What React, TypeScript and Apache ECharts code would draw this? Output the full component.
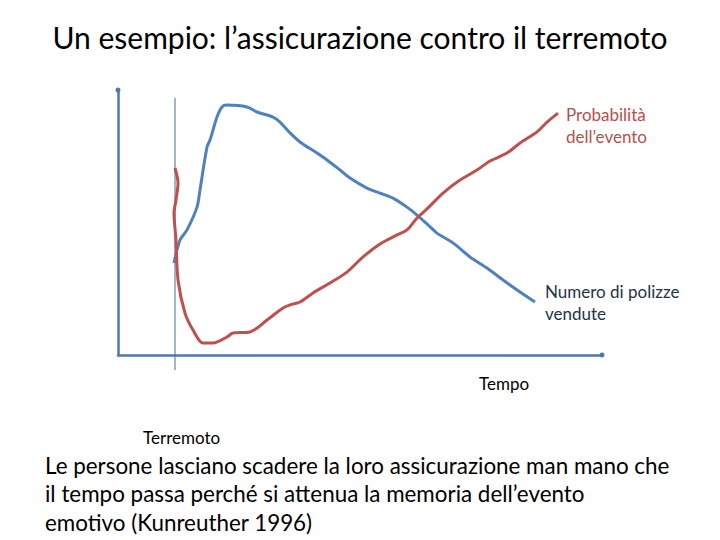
import React, { useEffect, useRef } from "react";
import * as echarts from "echarts";

// Numero di polizze vendute (x: tempo, y: livello)
const policiesX = [11.57, 12.81, 14.26, 16.32, 16.94, 18.39, 19.01, 20.45, 21.49, 22.52, 26.65, 28.72, 32.02, 33.47, 35.54, 37.6, 41.12, 43.18, 45.87, 47.93, 51.45, 54.13, 56.82, 59.71, 61.78, 64.05, 65.91, 69.21, 72.73, 76.24, 79.55, 83.06, 86.16];
const policiesY = [34.7, 43.4, 47.2, 55.8, 62.3, 78.5, 81.1, 89.8, 93.6, 94.3, 93.6, 91.7, 89.8, 87.9, 83.8, 80.4, 76.2, 73.6, 69.8, 66.8, 63.0, 61.1, 59.2, 55.8, 52.8, 49.1, 46.0, 42.3, 37.0, 32.8, 28.3, 23.8, 20.0];

// Probabilità dell'evento
const probX = [11.78, 12.4, 11.98, 11.57, 11.98, 12.4, 13.84, 15.5, 17.56, 19.63, 22.52, 23.76, 27.27, 30.79, 34.09, 35.54, 37.6, 40.29, 43.8, 47.31, 50.62, 54.13, 57.64, 59.71, 61.78, 64.05, 67.15, 70.66, 74.17, 76.86, 80.37, 83.06, 86.57, 88.64, 90.91];
const probY = [70.6, 64.9, 58.5, 53.6, 43.4, 28.3, 15.8, 9.4, 4.5, 4.5, 6.8, 8.3, 8.7, 13.2, 17.7, 18.9, 20.0, 23.4, 27.2, 31.3, 37.0, 41.9, 45.3, 47.2, 51.7, 55.5, 61.1, 66.0, 69.8, 73.2, 76.2, 80.0, 84.2, 87.9, 91.3];

// Terremoto
const quakeX = 11.78;
const quakeY = [-5.7, 97];

const titleText = "Un esempio: l’assicurazione contro il terremoto";
const probLabel = ["Probabilità", "dell’evento"];
const policiesLabel = ["Numero di polizze", "vendute"];
const timeLabel = "Tempo";
const quakeLabel = "Terremoto";
const bodyLines = [
  "Le persone lasciano scadere la loro assicurazione man mano che",
  "il tempo passa perché si attenua la memoria dell’evento",
  "emotivo (Kunreuther 1996)",
];

export default function App() {
  const ref = useRef<HTMLDivElement>(null);
  useEffect(() => {
    document.body.style.margin = "0";
    const chart = echarts.init(ref.current!, null, { renderer: "svg" });
    const font = "Lato, 'Noto Sans', sans-serif";
    const axisColor = "#4f7aa8";
    chart.setOption({
      animation: false,
      backgroundColor: "#ffffff",
      grid: { left: 118, top: 90, width: 484, height: 265 },
      xAxis: {
        type: "value",
        min: 0,
        max: 100,
        axisLine: { show: true, onZero: false, symbol: ["none", "circle"], symbolSize: [5, 5], lineStyle: { color: axisColor, width: 2.5 } },
        axisTick: { show: false },
        axisLabel: { show: false },
        splitLine: { show: false },
      },
      yAxis: {
        type: "value",
        min: 0,
        max: 100,
        axisLine: { show: true, onZero: false, symbol: ["none", "circle"], symbolSize: [5, 5], lineStyle: { color: axisColor, width: 2.5 } },
        axisTick: { show: false },
        axisLabel: { show: false },
        splitLine: { show: false },
      },
      series: [
        {
          type: "line",
          data: quakeY.map((y) => [quakeX, y]),
          showSymbol: false,
          clip: false,
          lineStyle: { color: "#4a6d94", width: 1 },
          silent: true,
        },
        {
          type: "line",
          data: policiesX.map((x, i) => [x, policiesY[i]]),
          showSymbol: false,
          smooth: 0.3,
          clip: false,
          lineStyle: { color: "#4f81bd", width: 3 },
        },
        {
          type: "line",
          data: probX.map((x, i) => [x, probY[i]]),
          showSymbol: false,
          smooth: 0.3,
          clip: false,
          lineStyle: { color: "#c0504d", width: 3 },
        },
      ],
      graphic: [
        { type: "text", left: "center", top: 22, style: { text: titleText, font: `30px ${font}`, fill: "#000" } },
        { type: "text", left: 566, top: 103, style: { text: probLabel.join("\n"), font: `17px ${font}`, fill: "#b5504d", lineHeight: 22 } },
        { type: "text", left: 545, top: 280, style: { text: policiesLabel.join("\n"), font: `17px ${font}`, fill: "#1f3347", lineHeight: 22 } },
        { type: "text", left: 479, top: 375, style: { text: timeLabel, font: `17px ${font}`, fill: "#000" } },
        { type: "text", left: 143, top: 429, style: { text: quakeLabel, font: `17px ${font}`, fill: "#000" } },
        { type: "text", left: 45, top: 451, style: { text: bodyLines.join("\n"), font: `22.4px ${font}`, fill: "#000", lineHeight: 28.5 } },
      ],
    });
    return () => chart.dispose();
  }, []);
  return <div ref={ref} style={{ width: 720, height: 540 }} />;
}
